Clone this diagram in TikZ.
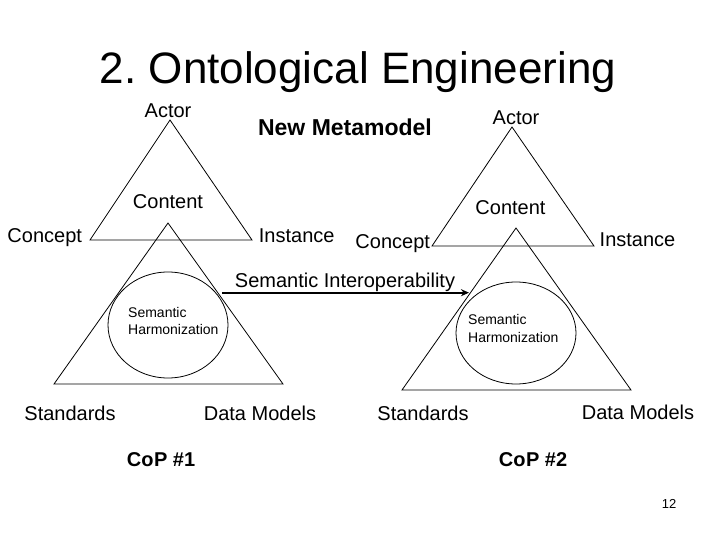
\documentclass[tikz,border=0pt]{standalone}
\usepackage{fontspec}
\setmainfont{Liberation Sans}
\usetikzlibrary{arrows.meta}
\begin{document}
\begin{tikzpicture}[x=1bp,y=-1bp,
  lbl/.style={inner sep=0pt,text depth=0pt,font=\fontsize{20bp}{24bp}\selectfont},
  blbl/.style={lbl,font=\fontsize{20bp}{24bp}\selectfont\bfseries},
  small/.style={inner sep=0pt,anchor=west,text depth=0pt,font=\fontsize{14bp}{17bp}\selectfont},
  tri/.style={draw=black,line width=0.8bp,line join=miter},
  harm/.style={draw=black,line width=0.8bp},
  link/.style={draw=black,line width=2bp,-{Stealth[length=8bp,width=7bp]}}]
\frenchspacing
\useasboundingbox (0,0) rectangle (720,540);
\fill[white] (0,0) rectangle (720,540);
% title
\node[inner sep=0pt,text depth=0pt,font=\fontsize{44bp}{50bp}\selectfont] (title) at (358,68) {2. Ontological Engineering};
\node[inner sep=0pt,text depth=0pt,font=\fontsize{23bp}{27bp}\selectfont\bfseries] (newmm) at (345,127) {New Metamodel};
% upper triangles (metamodel)
\coordinate (la) at (170,120); \coordinate (lb) at (90,240); \coordinate (lc) at (252,240);
\coordinate (ra) at (512,127); \coordinate (rb) at (432,246); \coordinate (rc) at (594,246);
\draw[tri] (la) -- (lb) -- (lc) -- cycle;
\draw[tri] (ra) -- (rb) -- (rc) -- cycle;
% lower triangles (CoPs)
\coordinate (lla) at (168,223); \coordinate (llb) at (54,384); \coordinate (llc) at (283,384);
\coordinate (rla) at (516,228); \coordinate (rlb) at (402,390); \coordinate (rlc) at (631,390);
\draw[tri] (lla) -- (llb) -- (llc) -- cycle;
\draw[tri] (rla) -- (rlb) -- (rlc) -- cycle;
% ellipses
\coordinate (lell) at (168,325);
\coordinate (rell) at (516,333);
\draw[harm] (lell) ellipse [x radius=60bp, y radius=53bp];
\draw[harm] (rell) ellipse [x radius=60bp, y radius=51bp];
% labels upper
\node[lbl] (actl) at (168,111) {Actor};
\node[lbl] (actr) at (516,117.5) {Actor};
\node[lbl] (contl) at (168,202) {Content};
\node[lbl] (contr) at (510.5,207.5) {Content};
\node[lbl] (concl) at (44.7,236) {Concept};
\node[lbl] (instl) at (296.7,236) {Instance};
\node[lbl] (concr) at (392.7,242) {Concept};
\node[lbl] (instr) at (637.5,240) {Instance};
% harmonization
\node[small] (shl1) at (128,312) {Semantic};
\node[small] (shl2) at (128,329) {Harmonization};
\node[small] (shr1) at (468,319) {Semantic};
\node[small] (shr2) at (468,337) {Harmonization};
% interoperability
\node[lbl] (sio) at (345,280) {Semantic Interoperability};
\coordinate (sia) at (222,292.7);
\coordinate (sib) at (469,292.7);
\draw[link] (sia) -- (sib);
% lower labels
\node[lbl] (stdl) at (70,413) {Standards};
\node[lbl] (dml) at (260,413) {Data Models};
\node[lbl] (stdr) at (423,413) {Standards};
\node[lbl] (dmr) at (638,412) {Data Models};
\node[blbl] (cop1) at (161,460) {Co\kern0.5bpP \#1};
\node[blbl] (cop2) at (533,460) {Co\kern0.5bpP \#2};
\node[inner sep=0pt,text depth=0pt,font=\fontsize{13bp}{15bp}\selectfont] (pg) at (669,504) {12};
\end{tikzpicture}
\end{document}
